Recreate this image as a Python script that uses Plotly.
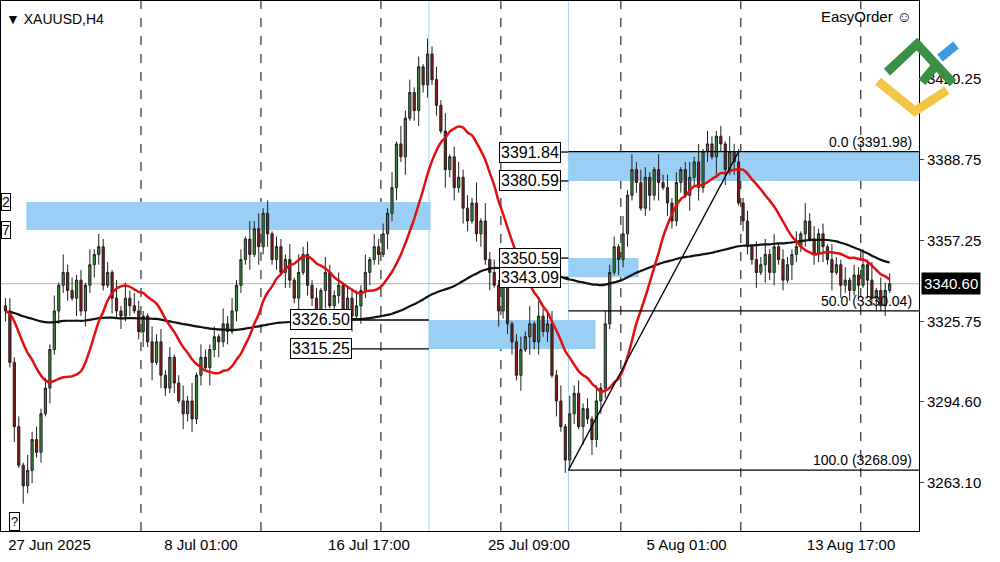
import plotly.graph_objects as go
import pandas as pd

closes = [3330,3310,3285,3270,3262,3268,3280,3275,3290,3300,
          3315,3330,3340,3345,3338,3335,3342,3330,3340,3348,
          3352,3355,3340,3345,3335,3330,3328,3335,3332,3330,
          3322,3328,3318,3310,3318,3305,3300,3312,3302,3295,
          3290,3295,3288,3305,3312,3308,3315,3320,3318,3325,
          3322,3330,3340,3350,3358,3352,3362,3355,3368,3360,
          3350,3355,3345,3350,3342,3335,3345,3352,3340,3335,
          3330,3338,3345,3332,3336,3340,3330,3335,3328,3332,
          3338,3345,3350,3355,3352,3360,3368,3378,3395,3390,
          3405,3415,3408,3425,3418,3430,3420,3410,3400,3385,
          3390,3378,3382,3370,3365,3372,3360,3365,3350,3345,
          3340,3330,3342,3325,3318,3305,3315,3320,3325,3318,
          3328,3322,3325,3305,3295,3285,3272,3290,3298,3285,
          3292,3288,3280,3295,3300,3325,3345,3355,3350,3360,
          3375,3385,3380,3370,3382,3375,3385,3380,3378,3372,
          3365,3380,3385,3375,3382,3388,3378,3392,3395,3390,
          3398,3395,3385,3392,3388,3372,3365,3355,3350,3345,
          3348,3352,3345,3355,3350,3342,3348,3352,3355,3360,
          3365,3358,3352,3360,3355,3350,3345,3348,3340,3342,
          3338,3344,3340,3348,3342,3335,3338,3332,3338,3340.6]
history = [3325,3320,3330,3335,3328,3318,3322,3330,3338,3332,
           3326,3320,3315,3322,3330,3336,3340,3334,3328,3324,
           3318,3322,3328,3334,3340,3345,3338,3332,3326,3330,
           3335,3328,3322,3318,3325,3332,3338,3342,3336,3330,
           3324,3320,3326,3332,3338,3344,3340,3336,3335,3332,
           3330,3334,3338,3332,3326,3322,3328,3334,3330,3326,
           3320,3324,3330,3336,3332,3328,3324,3330,3335,3331,
           3327,3323,3329,3335,3339,3333,3327,3321,3325,3331,
           3337,3333,3329,3325,3321,3327,3333,3337,3331,3327,
           3323,3329,3334,3330,3326,3322,3328,3334,3336,3332]
up_wick = ("35241635242617352416"
           "25341726354216352413"
           "62715324163524173625"
           "14326173524163251436"
           "27153426173524163527"
           "14635281735264135271"
           "63452617352416253417"
           "26354216352413627153"
           "24163524173625143261"
           "73524163251436271534")
dn_wick = ("42617352416253417263"
           "54216352413627153241"
           "63524173625143261735"
           "24163251436271534261"
           "73524163527146352417"
           "35264135271634526173"
           "52416253417263542163"
           "52413627153241635241"
           "73625143261735241632"
           "51436271534261735241")
zones = [(4.7, 95.7, 3361.5, 3372.4), (95.3, 132.8, 3315.25, 3326.5),
         (126.7, 205.6, 3380.59, 3391.84), (126.7, 142.5, 3343.09, 3350.59)]
level_labels = [(125, 3391.84, "3391.84"), (125, 3380.59, "3380.59"), (125, 3350.59, "3350.59"),
                (125, 3343.09, "3343.09"), (78, 3326.50, "3326.50"), (78, 3315.25, "3315.25")]
fib_levels = [(3391.98, "0.0 (3391.98)"), (3330.04, "50.0 (3330.04)"), (3268.09, "100.0 (3268.09)")]
y_ticks = [3263.10, 3294.60, 3325.75, 3357.25, 3388.75, 3420.25]
x_tick_pos = [9.9, 44, 81.8, 117.8, 153.3, 190.3]
x_tick_text = ["27 Jun 2025", "8 Jul 01:00", "16 Jul 17:00", "25 Jul 09:00", "5 Aug 01:00", "13 Aug 17:00"]
grid_bars = [30.5, 57.5, 84.5, 111.5, 138.5, 165.5, 192.5]
last_price = 3340.60

n = len(closes)
x = list(range(n))
opens = [history[-1]] + closes[:-1]
highs = [max(o, c) + int(up_wick[i]) for i, (o, c) in enumerate(zip(opens, closes))]
lows = [min(o, c) - int(dn_wick[i]) for i, (o, c) in enumerate(zip(opens, closes))]
full = pd.Series(history + closes)
red = full.rolling(16).mean().iloc[len(history):].tolist()
black = full.rolling(100, min_periods=1).mean().iloc[len(history):].tolist()

fig = go.Figure()
shapes = []
for x0, x1, y0, y1 in zones:
    shapes.append(dict(type="rect", x0=x0, x1=x1, y0=y0, y1=y1, fillcolor="#99cff5",
                       line=dict(width=0), layer="below"))
for g in grid_bars:
    shapes.append(dict(type="line", x0=g, x1=g, y0=0, y1=1, yref="paper",
                       line=dict(color="black", width=1, dash="dash"), layer="below"))
for xv in [95.3, 126.7]:
    shapes.append(dict(type="line", x0=xv, x1=xv, y0=0, y1=1, yref="paper",
                       line=dict(color="#a8d4f5", width=1), layer="below"))
shapes.append(dict(type="line", x0=-1, x1=206, y0=last_price, y1=last_price,
                   line=dict(color="#b0b0b0", width=1), layer="below"))
for lv, _ in fib_levels:
    shapes.append(dict(type="line", x0=126.7, x1=205.6, y0=lv, y1=lv, line=dict(color="black", width=1.3)))
shapes.append(dict(type="line", x0=126.7, x1=165, y0=3268.09, y1=3391.98, line=dict(color="black", width=1.3)))
for xa, yv, t in level_labels:
    shapes.append(dict(type="line", x0=xa, x1=126.7 if xa == 125 else 95.3, y0=yv, y1=yv,
                       line=dict(color="black", width=1.3)))

fig.add_trace(go.Candlestick(x=x, open=opens, high=highs, low=lows, close=closes,
                             increasing=dict(line=dict(color="#1f1f1f", width=1), fillcolor="#3c8c3c"),
                             decreasing=dict(line=dict(color="#1f1f1f", width=1), fillcolor="#8b1a1a"),
                             whiskerwidth=0, showlegend=False))
fig.add_trace(go.Scatter(x=x, y=black, mode="lines", line=dict(color="#111", width=2.2, shape="spline"), showlegend=False))
fig.add_trace(go.Scatter(x=x, y=red, mode="lines", line=dict(color="#e01010", width=2.5, shape="spline"), showlegend=False))

ann = []
for xa, yv, t in level_labels:
    ann.append(dict(x=xa, y=yv, text=t, showarrow=False, xanchor="right", yanchor="middle",
                    bgcolor="white", bordercolor="black", borderwidth=1, borderpad=1,
                    font=dict(size=16, color="black")))
for lv, t in fib_levels:
    ann.append(dict(x=204.5, y=lv, text=t, showarrow=False, xanchor="right", yanchor="bottom",
                    font=dict(size=14, color="black")))
ann.append(dict(x=1.002, y=last_price, xref="paper", text="3340.60", showarrow=False, xanchor="left",
                bgcolor="black", font=dict(size=15, color="white"), borderpad=2))
ann.append(dict(x=0.003, y=0.985, xref="paper", yref="paper", text="▼ XAUUSD,H4", showarrow=False,
                xanchor="left", yanchor="top", font=dict(size=14, color="black")))
ann.append(dict(x=0.995, y=0.99, xref="paper", yref="paper", text="EasyOrder ☺", showarrow=False,
                xanchor="right", yanchor="top", font=dict(size=15, color="black")))
ann.append(dict(x=0.009, y=0.0, xref="paper", yref="paper", text="?", showarrow=False,
                xanchor="left", yanchor="bottom", bgcolor="white", bordercolor="black", borderwidth=1,
                font=dict(size=13, color="black")))
for yv, t in [(3372.4, "2"), (3361.5, "7")]:
    ann.append(dict(x=0, y=yv, xref="paper", text=t, showarrow=False, xanchor="left",
                    bgcolor="white", bordercolor="black", borderwidth=1, borderpad=0,
                    font=dict(size=14, color="black")))

def px(pxx, pyy):
    return (pxx - 1) / 918, 1 - (pyy - 1) / 529
def logo_line(pts, color):
    path = "M " + " L ".join(f"{a},{b}" for a, b in (px(*p) for p in pts))
    shapes.append(dict(type="path", path=path, xref="paper", yref="paper",
                       line=dict(color=color, width=9)))
logo_line([(878, 81), (915, 111), (947, 90)], "#f2c744")
logo_line([(887, 72), (917, 44), (953, 83)], "#3a8f45")
logo_line([(922, 82), (938, 63)], "#3a8f45")
logo_line([(940, 58), (956, 45)], "#3d9ae0")

fig.update_layout(width=1000, height=562, margin=dict(l=1, r=81, t=1, b=31),
                  paper_bgcolor="white", plot_bgcolor="white", shapes=shapes, annotations=ann,
                  font=dict(family="Liberation Sans, Arial", size=15, color="black"),
                  xaxis=dict(range=[-1, 205.6], rangeslider=dict(visible=False), showgrid=False,
                             tickvals=x_tick_pos, ticktext=x_tick_text, ticks="", zeroline=False,
                             showline=True, linecolor="black", mirror=True, tickfont=dict(size=15)),
                  yaxis=dict(range=[3244.4, 3450.6], side="right", tickvals=y_ticks,
                             ticktext=[f"{v:.2f}" for v in y_ticks], ticks="outside", ticklen=4,
                             showgrid=False, zeroline=False, showline=True, linecolor="black",
                             mirror=True, tickfont=dict(size=15)))
fig.write_html("out.html", config={"displayModeBar": False},
               post_script="document.body.style.margin='0';")
